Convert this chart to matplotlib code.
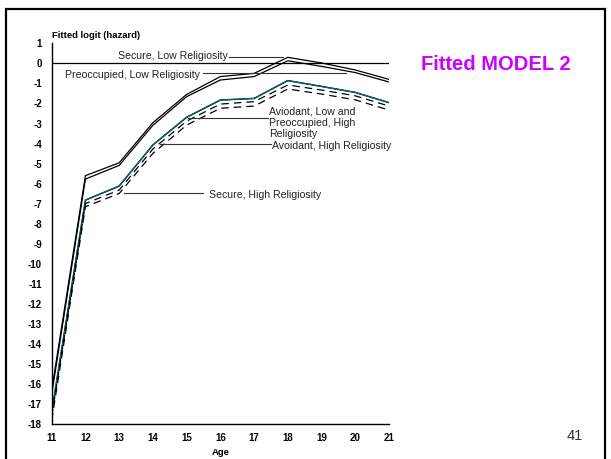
import matplotlib
matplotlib.use("Agg")
import matplotlib.pyplot as plt
from matplotlib.patches import Rectangle

# Fitted logit(hazard) by age, attachment style x religiosity
ages = [11, 12, 13, 14, 15, 16, 17, 18, 19, 20, 21]
secure_low = [-16.3, -5.6, -4.96, -2.96, -1.55, -0.66, -0.50, 0.30, 0.02, -0.33, -0.80]
preoccupied_low = [-16.5, -5.77, -5.09, -3.09, -1.66, -0.83, -0.66, 0.13, -0.15, -0.46, -0.93]
avoidant_low_preoccupied_high = [-17.4, -6.82, -6.12, -4.07, -2.69, -1.83, -1.75, -0.86, -1.15, -1.45, -1.96]
avoidant_high = [-17.6, -6.99, -6.32, -4.27, -2.88, -2.03, -1.91, -1.08, -1.33, -1.62, -2.13]
secure_high = [-17.8, -7.15, -6.49, -4.49, -3.08, -2.24, -2.13, -1.28, -1.53, -1.82, -2.33]

yticks = list(range(-18, 2))
xticks = ages

plt.rcParams["font.family"] = ["Liberation Sans", "DejaVu Sans"]

fig = plt.figure(figsize=(6.11, 4.59), dpi=100)
W, H = 611, 459

# slide frame
fig.patches.append(Rectangle((6 / W, -0.05), 599 / W, 1.05 - 9 / H,
                             transform=fig.transFigure, fill=False,
                             edgecolor="black", linewidth=1.6))

ax = fig.add_axes([51.7 / W, (H - 424.3) / H, (389 - 51.7) / W, (424.3 - 43.3) / H])
ax.set_xlim(11, 21)
ax.set_ylim(-18, 1)

ax.axhline(0, color="black", linewidth=0.9)

ax.plot(ages, secure_low, color="black", linewidth=0.9)
ax.plot(ages, preoccupied_low, color="black", linewidth=0.9)
ax.plot(ages, avoidant_low_preoccupied_high, color="black", linewidth=1.1)
ax.plot(ages, avoidant_low_preoccupied_high, color="#007a7a", linewidth=0.7)
ax.plot(ages, avoidant_high, color="black", linewidth=0.9, dashes=(6, 4))
ax.plot(ages, secure_high, color="black", linewidth=0.9, dashes=(6, 4))

ax.spines["top"].set_visible(False)
ax.spines["right"].set_visible(False)
for s in ("left", "bottom"):
    ax.spines[s].set_linewidth(1.0)

ax.set_yticks(yticks)
ax.set_yticklabels([str(v) for v in yticks])
ax.set_xticks(xticks)
ax.set_xticklabels([str(v) for v in xticks])
ax.tick_params(axis="both", length=0, labelsize=7)
ax.tick_params(axis="y", pad=7)
ax.tick_params(axis="x", pad=6)
for lab in ax.get_xticklabels() + ax.get_yticklabels():
    lab.set_fontweight("bold")

fig.text(52 / W, 1 - 35 / H, "Fitted logit (hazard)",
         fontsize=6.8, fontweight="bold", ha="left", va="center")
ax.set_xlabel("Age", fontsize=6.8, fontweight="bold", labelpad=4)

# curve labels with leader lines
lbl = dict(fontsize=7.6, color="#222222")
lead = dict(color="#333333", linewidth=0.8)

ax.text(16.22, 0.35, "Secure, Low Religiosity", ha="right", va="center", **lbl)
ax.plot([16.25, 17.86], [0.33, 0.33], **lead)

ax.text(11.38, -0.56, "Preoccupied, Low Religiosity", ha="left", va="center", **lbl)
ax.plot([15.49, 19.72], [-0.46, -0.46], **lead)

ax.text(17.44, -2.96, "Aviodant, Low and\nPreoccupied, High\nReligiosity",
        ha="left", va="center", linespacing=1.15, **lbl)
ax.plot([15.03, 17.40], [-2.74, -2.74], **lead)

ax.text(17.52, -4.11, "Avoidant, High Religiosity", ha="left", va="center", **lbl)
ax.plot([14.22, 17.50], [-4.04, -4.04], **lead)

ax.text(15.66, -6.55, "Secure, High Religiosity", ha="left", va="center", **lbl)
ax.plot([13.15, 15.49], [-6.49, -6.49], **lead)

fig.text(421 / W, 1 - 64 / H, "Fitted MODEL 2", fontsize=14.5, fontweight="bold",
         color="#CC00FF", ha="left", va="center")
fig.text(575 / W, 1 - 436 / H, "41", fontsize=10.5, color="#333333",
         ha="center", va="center")

fig.savefig("out.png", dpi=100)
